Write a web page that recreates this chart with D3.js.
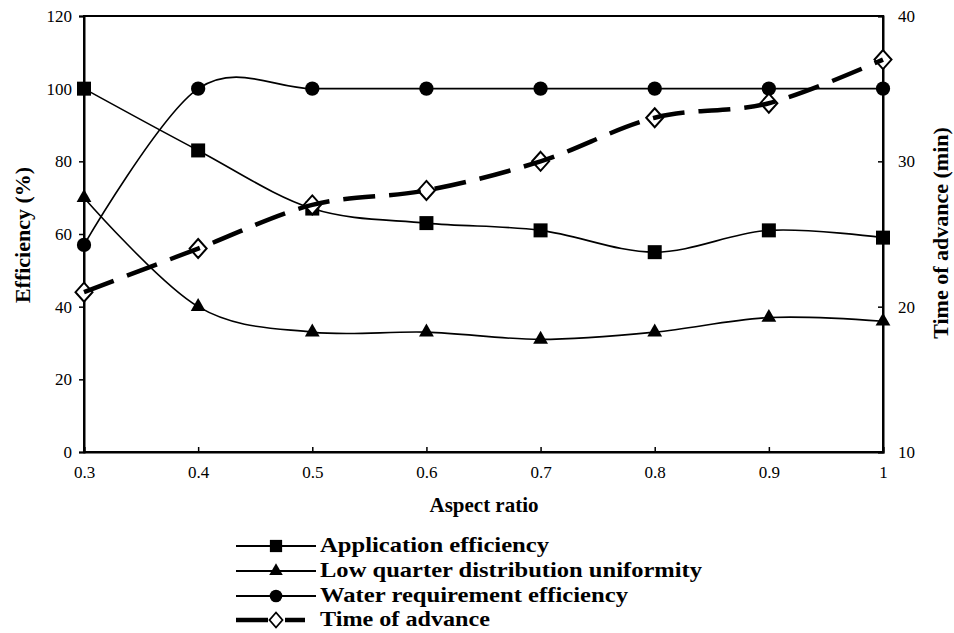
<!DOCTYPE html>
<html><head><meta charset="utf-8">
<script src="https://cdn.jsdelivr.net/npm/d3@7"></script>
<style>body{margin:0;background:#fff}svg{display:block}text{font-family:"Liberation Serif"}</style>
</head><body>
<svg id="c" width="954" height="633"></svg>
<script>
const aspectRatio = [0.3, 0.4, 0.5, 0.6, 0.7, 0.8, 0.9, 1.0];
const applicationEfficiency = [100, 83, 67, 63, 61, 55, 61, 59];
const lowQuarterDU = [70, 40, 33, 33, 31, 33, 37, 36];
const waterRequirementEfficiency = [57, 100, 100, 100, 100, 100, 100, 100];
const timeOfAdvance = [21, 24, 27, 28, 30, 33, 34, 37];
const xTicks = [0.3, 0.4, 0.5, 0.6, 0.7, 0.8, 0.9, 1];
const yLeftTicks = [0, 20, 40, 60, 80, 100, 120];
const yRightTicks = [10, 20, 30, 40];
const legendLabels = ["Application efficiency", "Low quarter distribution uniformity", "Water requirement efficiency", "Time of advance"];

const svg = d3.select("#c");
const L = 84, R = 883, T = 16, B = 452;
const x = d3.scaleLinear().domain([0.3, 1]).range([L, R]);
const yL = d3.scaleLinear().domain([0, 120]).range([B, T]);
const yR = d3.scaleLinear().domain([10, 40]).range([B, T]);
const FF = "Liberation Serif";

// frame
svg.append("rect").attr("x", L).attr("y", T).attr("width", R - L).attr("height", B - T)
  .attr("fill", "none").attr("stroke", "#000").attr("stroke-width", 2);

// axes
const ax = svg.append("g").attr("transform", `translate(0,${B})`)
  .call(d3.axisBottom(x).tickValues(xTicks).tickSize(-5).tickPadding(14).tickFormat(d => d === 1 ? "1" : d3.format(".1f")(d)));
const al = svg.append("g").attr("transform", `translate(${L},0)`)
  .call(d3.axisLeft(yL).tickValues(yLeftTicks).tickSize(5).tickPadding(7));
const ar = svg.append("g").attr("transform", `translate(${R},0)`)
  .call(d3.axisRight(yR).tickValues(yRightTicks).tickSize(-5).tickPadding(15));
[ax, al, ar].forEach(g => {
  g.attr("font-family", FF);
  g.select(".domain").attr("stroke-width", 2);
  g.selectAll(".tick line").attr("stroke-width", 1.5);
  g.selectAll("text").style("font-family", FF).attr("font-size", 17).attr("fill", "#000");
});
ax.selectAll("text").attr("dy", "0.71em");

// axis titles
svg.append("text").attr("x", 484).attr("y", 512).attr("text-anchor", "middle")
  .style("font-family", FF).attr("font-weight", "bold").attr("font-size", 21).text("Aspect ratio");
svg.append("text").attr("transform", `translate(30,235) rotate(-90)`).attr("text-anchor", "middle")
  .style("font-family", FF).attr("font-weight", "bold").attr("font-size", 22).text("Efficiency (%)");
svg.append("text").attr("transform", `translate(948,233) rotate(-90)`).attr("text-anchor", "middle")
  .style("font-family", FF).attr("font-weight", "bold").attr("font-size", 22).text("Time of advance (min)");

const curve = d3.curveCardinal.tension(0);
const lineL = d3.line().x((d, i) => x(aspectRatio[i])).y(d => yL(d)).curve(curve);
const lineR = d3.line().x((d, i) => x(aspectRatio[i])).y(d => yR(d)).curve(curve);

const diamondPath = (w, h) => `M0,${-h}L${w},0L0,${h}L${-w},0Z`;
const sq = d3.symbol().type(d3.symbolSquare).size(196);
const tri = d3.symbol().type(d3.symbolTriangle).size(95);
const circ = d3.symbol().type(d3.symbolCircle).size(160);

const series = [
  {vals: applicationEfficiency, sym: sq},
  {vals: lowQuarterDU, sym: tri},
  {vals: waterRequirementEfficiency, sym: circ}
];
series.forEach(s => {
  svg.append("path").datum(s.vals).attr("d", lineL).attr("fill", "none").attr("stroke", "#000").attr("stroke-width", 1.6);
  svg.selectAll(null).data(s.vals).enter().append("path")
    .attr("d", s.sym).attr("transform", (d, i) => `translate(${x(aspectRatio[i])},${yL(d)})`).attr("fill", "#000");
});
// time of advance
svg.selectAll(null).data(timeOfAdvance).enter().append("path")
  .attr("d", diamondPath(8.5, 9.5)).attr("transform", (d, i) => `translate(${x(aspectRatio[i])},${yR(d)})`)
  .attr("fill", "#fff").attr("stroke", "#000").attr("stroke-width", 2);
svg.append("path").datum(timeOfAdvance).attr("d", lineR).attr("fill", "none").attr("stroke", "#000")
  .attr("stroke-width", 4.5).attr("stroke-dasharray", "32,14");

// legend
const ly = [546, 571, 596, 620];
const lwidths = [229, 382, 308, 170];
const lsyms = [d3.symbol().type(d3.symbolSquare).size(150), d3.symbol().type(d3.symbolTriangle).size(80), d3.symbol().type(d3.symbolCircle).size(125)];
legendLabels.forEach((lab, i) => {
  const g = svg.append("g");
  if (i < 3) {
    g.append("line").attr("x1", 236).attr("x2", 316).attr("y1", ly[i]).attr("y2", ly[i]).attr("stroke", "#000").attr("stroke-width", 2);
    g.append("path").attr("d", lsyms[i]).attr("transform", `translate(276,${ly[i]})`).attr("fill", "#000");
  } else {
    g.append("line").attr("x1", 236).attr("x2", 268).attr("y1", ly[i]).attr("y2", ly[i]).attr("stroke", "#000").attr("stroke-width", 4.5);
    g.append("line").attr("x1", 285).attr("x2", 305).attr("y1", ly[i]).attr("y2", ly[i]).attr("stroke", "#000").attr("stroke-width", 4.5);
    g.append("path").attr("d", diamondPath(6.5, 7.5)).attr("transform", `translate(276,${ly[i]})`)
      .attr("fill", "#fff").attr("stroke", "#000").attr("stroke-width", 1.8);
  }
  g.append("text").attr("x", 320).attr("y", ly[i] + 6)
    .attr("textLength", lwidths[i]).attr("lengthAdjust", "spacingAndGlyphs")
    .style("font-family", FF).attr("font-weight", "bold").attr("font-size", 22).text(lab);
});
</script>
</body></html>
